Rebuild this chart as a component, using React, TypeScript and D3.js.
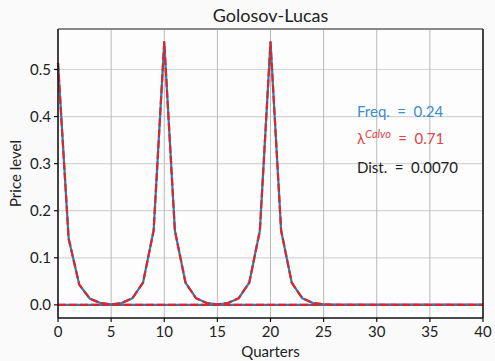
import React from "react";
import * as d3 from "d3";

const quarters: number[] = d3.range(0, 41);
const priceGL: number[] = [
  0.514, 0.141, 0.043, 0.013, 0.004, 0.001, 0.004, 0.014, 0.047, 0.158,
  0.558, 0.158, 0.047, 0.014, 0.004, 0.001, 0.004, 0.014, 0.047, 0.158,
  0.558, 0.158, 0.047, 0.014, 0.004, 0.001, 0, 0, 0, 0,
  0, 0, 0, 0, 0, 0, 0, 0, 0, 0, 0,
];
const priceCalvo: number[] = priceGL.slice();
const zeroLine: number[] = quarters.map(() => 0);
const xTicks: number[] = [0, 5, 10, 15, 20, 25, 30, 35, 40];
const yTicks: number[] = [0, 0.1, 0.2, 0.3, 0.4, 0.5];
const annotations = { freq: "0.24", calvo: "0.71", dist: "0.0070" };

const W = 495, H = 361;
const M = { left: 58, right: 483, top: 29, bottom: 318 };
const BLUE = "#2a7fc0";
const RED = "#d9282b";
const FONT = "Lato, 'Open Sans', sans-serif";
const EQ = "\u2002=\u2002";

export default function App() {
  const x = d3.scaleLinear().domain([0, 40]).range([M.left, M.right]);
  const y = d3.scaleLinear().domain([-0.0279, 0.586]).range([M.bottom, M.top]);
  const line = d3.line<number>().x((_, i) => x(quarters[i])).y((d) => y(d));
  return (
    <svg width={W} height={H} style={{ position: "absolute", left: 0, top: 0, background: "#fafafa" }} fontFamily={FONT}>
      <rect x={M.left} y={M.top} width={M.right - M.left} height={M.bottom - M.top} fill="#fdfdfd" />
      {yTicks.map((t) => (
        <line key={"gy" + t} x1={M.left} x2={M.right} y1={y(t)} y2={y(t)} stroke="#d4d4d4" strokeWidth={1.2} />
      ))}
      {xTicks.map((t) => (
        <line key={"gx" + t} x1={x(t)} x2={x(t)} y1={M.top} y2={M.bottom} stroke="#b9b9b9" strokeWidth={1} />
      ))}
      <path d={line(zeroLine) || ""} fill="none" stroke={BLUE} strokeWidth={2.2} />
      <path d={line(zeroLine) || ""} fill="none" stroke={RED} strokeWidth={2.2} strokeDasharray="8,3" />
      <path d={line(priceGL) || ""} fill="none" stroke={BLUE} strokeWidth={2.2} strokeLinejoin="round" />
      <path d={line(priceCalvo) || ""} fill="none" stroke={RED} strokeWidth={2.2} strokeDasharray="8,3" strokeLinejoin="round" />
      <line x1={M.left} x2={M.right} y1={M.top} y2={M.top} stroke="#888" strokeWidth={2} />
      <line x1={M.right} x2={M.right} y1={M.top} y2={M.bottom} stroke="#111" strokeWidth={1.5} />
      <line x1={M.left} x2={M.left} y1={M.top} y2={M.bottom} stroke="#111" strokeWidth={1.5} />
      <line x1={M.left} x2={M.right} y1={M.bottom} y2={M.bottom} stroke="#111" strokeWidth={1.5} />
      {yTicks.map((t) => (
        <g key={"ty" + t}>
          <line x1={M.left - 4} x2={M.left} y1={y(t)} y2={y(t)} stroke="#111" strokeWidth={1.2} />
          <text x={M.left - 7} y={y(t)} dy="0.36em" textAnchor="end" fontSize={15} fill="#222">{t.toFixed(1)}</text>
        </g>
      ))}
      {xTicks.map((t) => (
        <g key={"tx" + t}>
          <line x1={x(t)} x2={x(t)} y1={M.bottom} y2={M.bottom + 4} stroke="#111" strokeWidth={1.2} />
          <text x={x(t)} y={M.bottom + 19} textAnchor="middle" fontSize={15} fill="#222">{t}</text>
        </g>
      ))}
      <text x={(M.left + M.right) / 2} y={22} textAnchor="middle" fontSize={18} fill="#222">Golosov-Lucas</text>
      <text x={(M.left + M.right) / 2} y={357} textAnchor="middle" fontSize={15} fill="#222">Quarters</text>
      <text transform={`translate(21,${(M.top + M.bottom) / 2}) rotate(-90)`} textAnchor="middle" fontSize={15} fill="#222">Price level</text>
      <text x={357} y={117} fontSize={15} fill="#3b8dcc">Freq.{EQ}{annotations.freq}</text>
      <text x={357} y={144} fontSize={15} fill="#e0444a">
        λ<tspan fontSize={11} dy={-6} fontStyle="italic">Calvo</tspan><tspan dy={6}>{EQ}{annotations.calvo}</tspan>
      </text>
      <text x={357} y={173} fontSize={15} fill="#222">Dist.{EQ}{annotations.dist}</text>
    </svg>
  );
}
